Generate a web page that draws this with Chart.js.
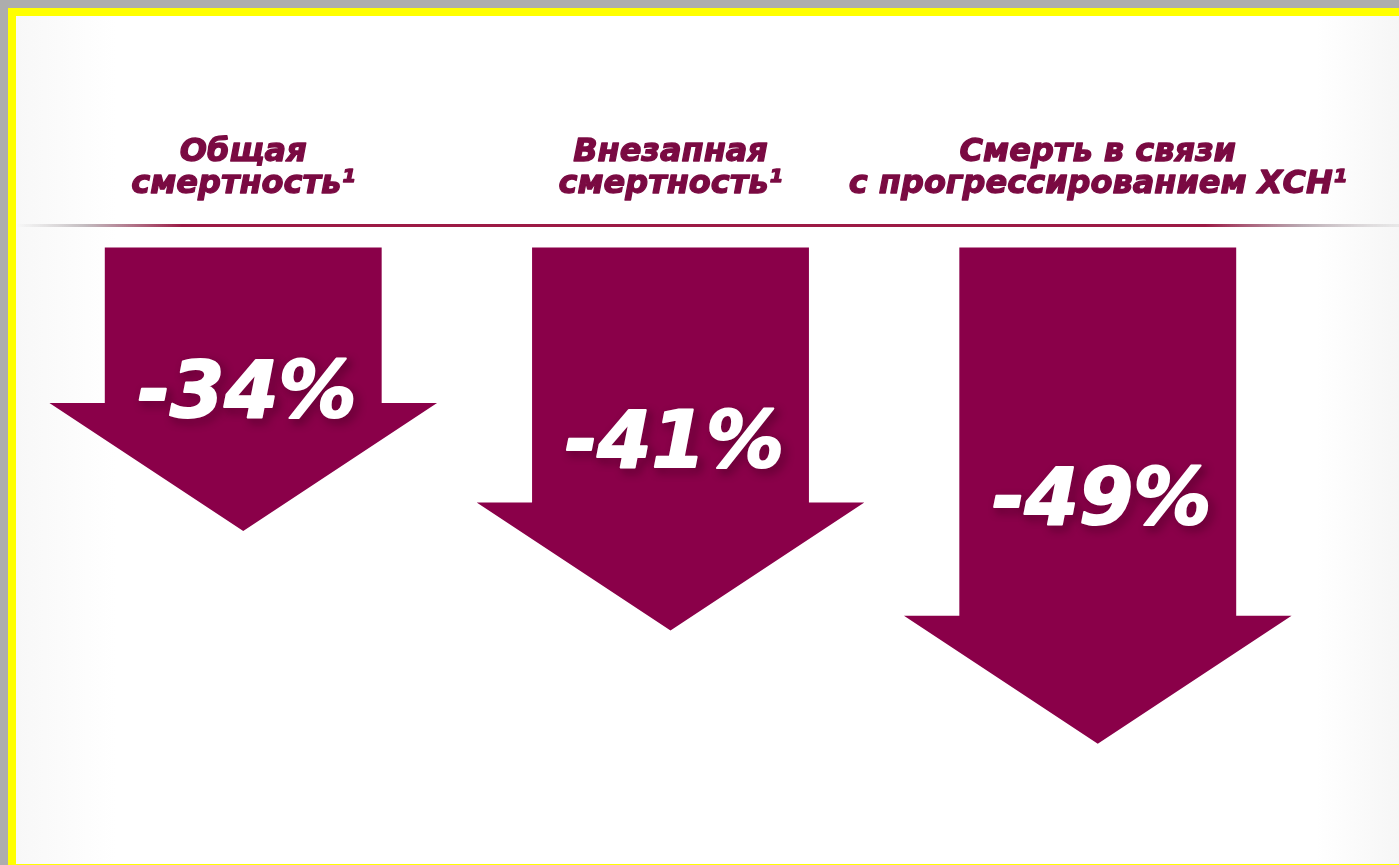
<!DOCTYPE html>
<html>
<head>
<meta charset="utf-8">
<title>Снижение смертности</title>
<script src="https://cdn.jsdelivr.net/npm/chart.js@4.4.1/dist/chart.umd.min.js"></script>
<style>
	html, body
	{
		margin: 0;
		padding: 0;
		width: 1399px;
		height: 865px;
		overflow: hidden;
		background: #adadad;
	}

	#frame
	{
		position: absolute;
		left: 8px;
		top: 8px;
		width: 1383px;
		height: 848px;
		border-left: 8px solid #ffff00;
		border-top: 8px solid #ffff00;
		border-bottom: 8px solid #ffff00;
		background: linear-gradient(to right, #f8f8f8 0, #ffffff 100px, #ffffff 1300px, #f6f6f6 100%);
	}

	#Chart
	{
		position: absolute;
		left: 0;
		top: 0;
	}
</style>
</head>
<body>
<div id="frame"></div>
<canvas id="Chart" width="1399" height="865"></canvas>
<script>
	var categories = [
		["Общая", "смертность¹"],
		["Внезапная", "смертность¹"],
		["Смерть в связи", "с прогрессированием ХСН¹"]
	];
	var reduction = [-34, -41, -49];

	var ARROW = "#8a0049";
	var HEAD = "#7a0a42";

	// draws the header rule, the column titles and every bar as a down arrow
	var arrows = {
		id: "arrows",
		afterDatasetsDraw: function (chart)
		{
			var ctx = chart.ctx;
			var meta = chart.getDatasetMeta(0);

			ctx.save();

			var rule = ctx.createLinearGradient(16, 0, 1399, 0);
			rule.addColorStop(0, "rgba(190,190,190,0)");
			rule.addColorStop(0.05, "rgba(180,170,175,0.8)");
			rule.addColorStop(0.12, "#9c1a45");
			rule.addColorStop(0.86, "#9c1a45");
			rule.addColorStop(0.93, "rgba(170,150,160,0.8)");
			rule.addColorStop(1, "rgba(200,200,200,0.3)");
			ctx.fillStyle = rule;
			ctx.fillRect(16, 224, 1383, 3);

			ctx.textAlign = "center";
			ctx.textBaseline = "alphabetic";
			ctx.lineJoin = "round";

			meta.data.forEach(function (bar, i)
			{
				ctx.fillStyle = HEAD;
				ctx.strokeStyle = HEAD;
				ctx.lineWidth = 1.3;
				ctx.font = "italic bold 32px 'DejaVu Sans'";
				ctx.fillText(categories[i][0], bar.x, 161);
				ctx.strokeText(categories[i][0], bar.x, 161);
				ctx.fillText(categories[i][1], bar.x, 193);
				ctx.strokeText(categories[i][1], bar.x, 193);
			});

			meta.data.forEach(function (bar, i)
			{
				var half = bar.width / 2;
				var wing = bar.width * 0.7;
				var head = 128;
				var top = bar.base;
				var tip = bar.y;

				ctx.fillStyle = ARROW;
				ctx.beginPath();
				ctx.moveTo(bar.x - half, top);
				ctx.lineTo(bar.x + half, top);
				ctx.lineTo(bar.x + half, tip - head);
				ctx.lineTo(bar.x + wing, tip - head);
				ctx.lineTo(bar.x, tip);
				ctx.lineTo(bar.x - wing, tip - head);
				ctx.lineTo(bar.x - half, tip - head);
				ctx.closePath();
				ctx.fill();

				var label = reduction[i] + "%";
				var ly = (top + tip) / 2 + 28;

				ctx.save();
				ctx.shadowColor = "rgba(20,0,10,0.75)";
				ctx.shadowBlur = 8;
				ctx.shadowOffsetX = 4;
				ctx.shadowOffsetY = 4;
				ctx.fillStyle = "#ffffff";
				ctx.strokeStyle = "#ffffff";
				ctx.lineWidth = 2;
				ctx.font = "italic bold 78px 'DejaVu Sans'";
				ctx.strokeText(label, bar.x + 4, ly);
				ctx.shadowColor = "rgba(0,0,0,0)";
				ctx.fillText(label, bar.x + 4, ly);
				ctx.restore();
			});

			ctx.restore();
		}
	};

	new Chart(document.getElementById("Chart"), {
		type: "bar",
		data: {
			labels: categories,
			datasets: [{
				data: reduction,
				base: -14,
				backgroundColor: "rgba(0,0,0,0)",
				borderWidth: 0,
				categoryPercentage: 1,
				barPercentage: 0.648
			}]
		},
		options: {
			responsive: false,
			animation: false,
			events: [],
			layout: {
				padding: {left: 29.6, right: 87.6, top: 247.5, bottom: 107}
			},
			plugins: {
				legend: {display: false},
				tooltip: {enabled: false}
			},
			scales: {
				x: {display: false},
				y: {display: false, min: -50, max: -14}
			}
		},
		plugins: [arrows]
	});
</script>
</body>
</html>
